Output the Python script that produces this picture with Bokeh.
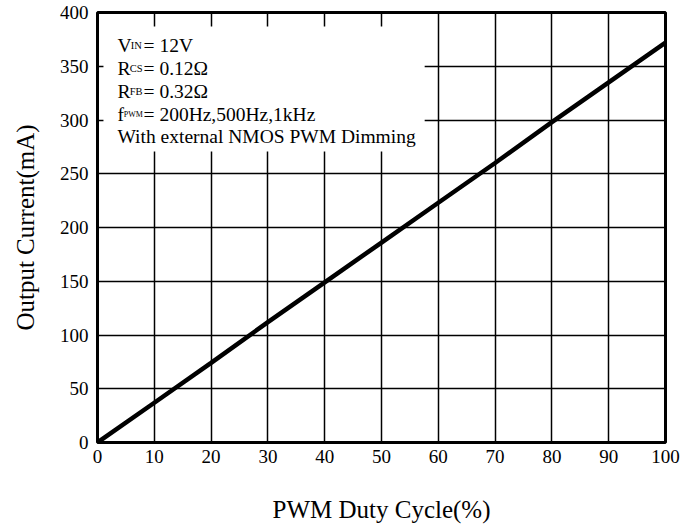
from bokeh.plotting import figure
from bokeh.models import Range1d, BoxAnnotation, Label, FixedTicker
from bokeh.embed import file_html
from bokeh.resources import INLINE

# ---- data ----
duty = [0, 10, 20, 30, 40, 50, 60, 70, 80, 90, 100]
current = [0, 37, 74, 112, 149, 186, 223, 260, 298, 335, 372]
x_ticks = [0, 10, 20, 30, 40, 50, 60, 70, 80, 90, 100]
y_ticks = [0, 50, 100, 150, 200, 250, 300, 350, 400]

x_title = "PWM Duty Cycle(%)"
y_title = "Output Current(mA)"
main_texts = ["V", "R", "R", "f", "With external NMOS PWM Dimming"]
sub_texts = ["IN", "CS", "FB", "PWM", ""]
rest_texts = ["= 12V", "= 0.12\u03a9", "= 0.32\u03a9", "= 200Hz,500Hz,1kHz", ""]

FONT = "Liberation Serif"

p = figure(width=691, height=526, output_backend="svg", toolbar_location=None,
           x_range=Range1d(0, 100), y_range=Range1d(0, 400),
           min_border_left=97, min_border_right=26, min_border_top=12,
           min_border_bottom=84)

p.background_fill_color = "white"
p.border_fill_color = "white"
p.outline_line_color = "black"
p.outline_line_width = 3

p.xaxis.ticker = FixedTicker(ticks=x_ticks)
p.yaxis.ticker = FixedTicker(ticks=y_ticks)
for ax in (p.xaxis, p.yaxis):
    ax.axis_line_color = None
    ax.major_tick_line_color = None
    ax.minor_tick_line_color = None
    ax.major_tick_out = 0
    ax.major_tick_in = 0
    ax.minor_tick_out = 0
    ax.minor_tick_in = 0
    ax.major_label_text_font = FONT
    ax.major_label_text_font_size = "19px"
    ax.major_label_text_color = "black"
    ax.axis_label_text_font = FONT
    ax.axis_label_text_font_size = "25px"
    ax.axis_label_text_font_style = "normal"
    ax.axis_label_text_color = "black"
p.xaxis.axis_label = x_title
p.yaxis.axis_label = y_title
p.xaxis.major_label_standoff = 7
p.yaxis.major_label_standoff = 9
p.xaxis.axis_label_standoff = 30
p.yaxis.axis_label_standoff = 18

for g in (p.xgrid, p.ygrid):
    g.grid_line_color = "black"
    g.grid_line_width = 1.5
    g.grid_line_alpha = 1.0
p.xgrid.ticker = FixedTicker(ticks=x_ticks)
p.ygrid.ticker = FixedTicker(ticks=y_ticks)

p.line(duty, current, line_color="black", line_width=4.5)

# white info box hiding the grid
box = BoxAnnotation(left=1.05, right=57.6, bottom=270.7, top=387,
                    fill_color="white", fill_alpha=1.0, line_color=None)
p.add_layout(box)

row_y = [369.3, 347.9, 326.5, 305.1, 284.7]
main_x = 3.52
sub_x = [5.85, 5.67, 5.67, 4.62, 0]
rest_x = 8.10
for i in range(len(main_texts)):
    p.add_layout(Label(x=main_x, y=row_y[i], text=main_texts[i],
                       text_font=FONT, text_font_size="19.5px",
                       text_color="black", text_baseline="alphabetic",
                       text_align="left"))
    if sub_texts[i]:
        p.add_layout(Label(x=sub_x[i], y=row_y[i], text=sub_texts[i],
                           text_font=FONT,
                           text_font_size="8px" if sub_texts[i] == "PWM" else "10.5px",
                           text_color="black", text_baseline="alphabetic",
                           text_align="left"))
    if rest_texts[i]:
        p.add_layout(Label(x=rest_x, y=row_y[i], text=rest_texts[i],
                           text_font=FONT, text_font_size="19.5px",
                           text_color="black", text_baseline="alphabetic",
                           text_align="left"))

open("out.html", "w").write(file_html(p, INLINE))
